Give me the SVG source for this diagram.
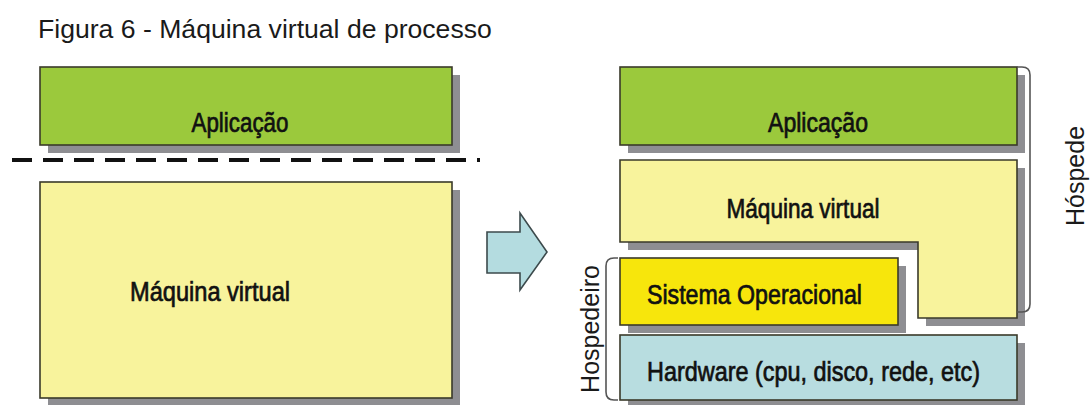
<svg xmlns="http://www.w3.org/2000/svg" width="1090" height="405" viewBox="0 0 1090 405">
  <defs>
    <style>
      .title { font-family: "Liberation Sans", Arial, sans-serif; font-size: 26.6px; fill: #1a1a1a; }
      .side { font-family: "Liberation Sans", Arial, sans-serif; font-size: 25px; fill: #1a1a1a; }
      .lbl { font-family: "Liberation Sans", Arial, sans-serif; font-size: 27px; fill: #111; stroke: #111; stroke-width: 0.7; }
      .box { stroke: #3a3a2a; stroke-width: 1.6; }
      .shadow { fill: #8e8e92; }
      .green { fill: #9bc93c; }
      .pale { fill: #f8f39c; }
      .os { fill: #f7e60c; }
      .hw { fill: #b8dde0; }
      .brace { fill: none; stroke: #555; stroke-width: 1.6; }
    </style>
  </defs>

  <rect width="1090" height="405" fill="#ffffff"/>

  <text class="title" x="38" y="38">Figura 6 - Máquina virtual de processo</text>

  <!-- left stack: process VM view -->
  <g id="left-app">
    <rect class="shadow" x="48" y="75" width="412" height="78"/>
    <rect class="box green" x="40" y="67" width="412" height="78"/>
    <text class="lbl" x="240" y="132" text-anchor="middle" textLength="97" lengthAdjust="spacingAndGlyphs">Aplicação</text>
  </g>

  <g id="divider">
    <line x1="12" y1="160" x2="480" y2="160" stroke="#111" stroke-width="4" stroke-dasharray="20 11"/>
  </g>

  <g id="left-vm">
    <rect class="shadow" x="48" y="190" width="412" height="216"/>
    <rect class="box pale" x="40" y="182" width="412" height="216"/>
    <text class="lbl" x="130" y="301" textLength="160" lengthAdjust="spacingAndGlyphs">Máquina virtual</text>
  </g>

  <!-- connectors -->
  <g id="connectors">
    <path d="M487,232 H520 V213 L547,252 L520,290 V273 H487 Z" fill="#b4dce0" stroke="#3c4a4c" stroke-width="1.6" stroke-linejoin="miter"/>
  </g>

  <!-- right stack: guest and host layers -->
  <g id="right-app">
    <rect class="shadow" x="628" y="75" width="397" height="78"/>
    <rect class="box green" x="620" y="67" width="397" height="78"/>
    <text class="lbl" x="818" y="132" text-anchor="middle" textLength="100" lengthAdjust="spacingAndGlyphs">Aplicação</text>
  </g>

  <g id="right-vm">
    <path class="shadow" d="M628,168 H1025 V326 H926 V250 H628 Z"/>
    <path class="box pale" d="M620,160 H1017 V318 H918 V242 H620 Z"/>
    <text class="lbl" x="803" y="218" text-anchor="middle" textLength="153" lengthAdjust="spacingAndGlyphs">Máquina virtual</text>
  </g>

  <g id="os">
    <rect class="shadow" x="628" y="266" width="278" height="67"/>
    <rect class="box os" x="620" y="258" width="278" height="67"/>
    <text class="lbl" x="647" y="304" textLength="215" lengthAdjust="spacingAndGlyphs">Sistema Operacional</text>
  </g>

  <g id="hardware">
    <rect class="shadow" x="628" y="343" width="397" height="65"/>
    <rect class="box hw" x="620" y="335" width="397" height="65"/>
    <text class="lbl" x="647" y="381" textLength="333" lengthAdjust="spacingAndGlyphs">Hardware (cpu, disco, rede, etc)</text>
  </g>

  <!-- braces grouping the layers -->
  <g id="guest">
    <path class="brace" d="M1017,67 H1022 Q1030,67 1030,75 V304 Q1030,312 1022,312 H1017"/>
    <text class="side" transform="translate(1084,176) rotate(-90)" text-anchor="middle">Hóspede</text>
  </g>

  <g id="host">
    <path class="brace" d="M618,258 H614 Q606,258 606,266 V392 Q606,400 614,400 H618"/>
    <text class="side" transform="translate(599,329) rotate(-90)" text-anchor="middle">Hospedeiro</text>
  </g>
</svg>
